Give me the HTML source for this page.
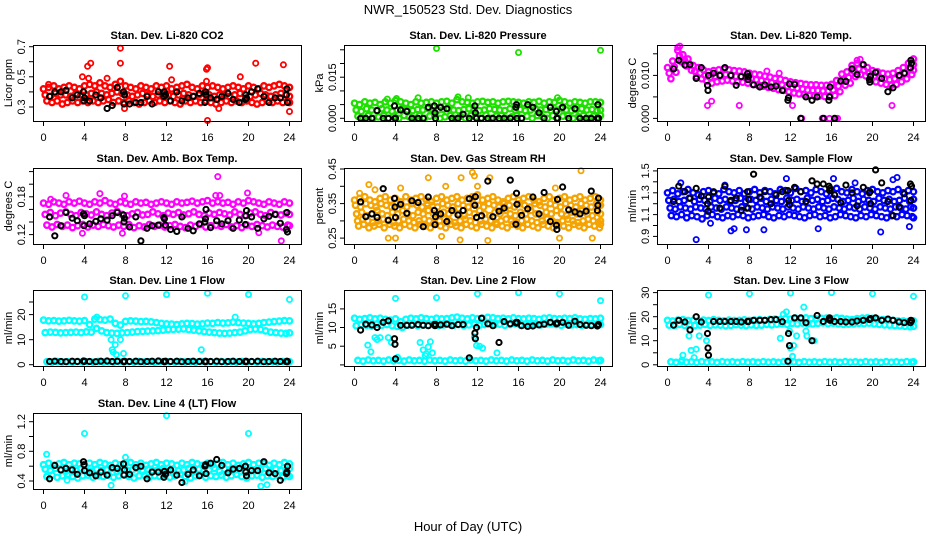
<!DOCTYPE html>
<html><head><meta charset="utf-8"><title>NWR_150523 Std. Dev. Diagnostics</title>
<style>
html,body{margin:0;padding:0;background:#fff;}
svg{display:block;font-family:"Liberation Sans",Arial,sans-serif;}
</style></head>
<body>
<svg id="chart" width="936" height="540" viewBox="0 0 936 540">
<text x="468" y="14" font-size="13" text-anchor="middle">NWR_150523  Std. Dev. Diagnostics</text>
<text x="468" y="531" font-size="13" text-anchor="middle">Hour of Day (UTC)</text>
</svg>
<script>
// shared hours of the black (hourly summary) points
const blackHours=[0.6,1.1,1.7,2.2,2.8,3.3,3.9,3.95,4.0,4.5,5.1,5.6,6.2,6.7,7.2,7.8,7.85,7.9,8.4,9.0,9.5,10.1,10.6,11.2,11.75,11.8,11.9,12.4,13.0,13.5,14.1,14.6,15.2,15.75,15.8,15.85,16.3,16.9,17.4,18.0,18.5,19.1,19.7,19.75,19.8,20.3,20.9,21.5,22.0,22.6,23.1,23.7,23.75,23.8];
const xTicks=[0,4,8,12,16,20,24];

// CO2
const co2Hi=[0.42,0.43,0.44,0.42,0.43,0.44,0.43,0.42,0.44,0.45,0.44,0.46,0.44,0.43,0.45,0.47,0.44,0.43,0.42,0.44,0.43,0.42,0.44,0.43,0.44,0.42,0.43,0.44,0.45,0.43,0.42,0.44,0.43,0.44,0.43,0.42,0.43,0.44,0.43,0.42,0.44,0.43,0.42,0.44,0.43,0.44,0.45,0.44,0.43];
const co2Mid=[0.38,0.37,0.39,0.38,0.38,0.37,0.39,0.38,0.38,0.39,0.40,0.39,0.38,0.39,0.40,0.39,0.38,0.37,0.38,0.39,0.38,0.37,0.38,0.39,0.38,0.37,0.38,0.39,0.38,0.37,0.38,0.39,0.38,0.37,0.38,0.38,0.37,0.38,0.39,0.38,0.37,0.38,0.39,0.38,0.37,0.38,0.39,0.38,0.37];
const co2Lo=[0.34,0.33,0.34,0.32,0.33,0.34,0.33,0.34,0.33,0.34,0.33,0.34,0.35,0.33,0.34,0.33,0.34,0.33,0.32,0.33,0.34,0.33,0.34,0.33,0.34,0.33,0.32,0.34,0.33,0.34,0.33,0.34,0.33,0.32,0.33,0.34,0.33,0.34,0.33,0.34,0.33,0.32,0.33,0.34,0.33,0.34,0.33,0.34,0.33];
const co2OutX=[4.3,4.6,3.8,7.5,7.5,12.3,12.5,15.9,16.0,16.0,15.9,19.2,20.7,23.4,24.0,17.1,6.2,7.9,4.4,0.5];
const co2OutY=[0.57,0.59,0.50,0.69,0.59,0.57,0.48,0.55,0.56,0.21,0.47,0.50,0.59,0.58,0.27,0.29,0.49,0.29,0.49,0.45];
const co2Black=[0.37,0.40,0.40,0.41,0.36,0.38,0.40,0.34,0.36,0.34,0.38,0.36,0.29,0.31,0.43,0.40,0.32,0.38,0.32,0.33,0.33,0.37,0.32,0.40,0.37,0.40,0.38,0.34,0.40,0.34,0.36,0.37,0.39,0.33,0.40,0.38,0.36,0.35,0.37,0.39,0.35,0.33,0.35,0.38,0.36,0.40,0.42,0.37,0.33,0.36,0.36,0.38,0.42,0.33];

// Pressure
const prsHi=[0.0055,0.005,0.006,0.0055,0.0058,0.005,0.006,0.0055,0.0065,0.006,0.0055,0.005,0.006,0.0055,0.0058,0.006,0.0055,0.006,0.0062,0.0055,0.0068,0.006,0.0058,0.0055,0.006,0.0062,0.0058,0.006,0.0055,0.006,0.0062,0.006,0.0058,0.0055,0.006,0.0058,0.0062,0.0055,0.006,0.0058,0.0065,0.006,0.0055,0.006,0.0058,0.0055,0.006,0.006,0.0058];
const prsMid=[0.003,0.0025,0.0035,0.003,0.0028,0.0035,0.003,0.0025,0.003,0.0035,0.003,0.0028,0.0032,0.003,0.0035,0.0025,0.003,0.0032,0.0035,0.003,0.0028,0.0032,0.0035,0.003,0.0028,0.003,0.0035,0.0032,0.003,0.0028,0.0035,0.003,0.0032,0.0028,0.003,0.0035,0.003,0.0032,0.0028,0.003,0.0035,0.003,0.0028,0.0032,0.0035,0.003,0.0032,0.0028,0.003];
const prsLo=[0.0008,0,0.001,0,0.0005,0.001,0,0.0008,0,0.001,0.0005,0,0.001,0,0.0008,0.0012,0,0.0005,0.001,0,0.0008,0,0.001,0.0005,0,0.0012,0,0.0008,0.001,0,0.0005,0.001,0,0.0008,0,0.001,0.0005,0,0.001,0,0.0008,0.001,0,0.0005,0.001,0,0.0008,0,0.001];
const prsOutX=[8,16,24,6.2,10.1,19.8,4.1,11.1,3.2];
const prsOutY=[0.0255,0.024,0.0248,0.0075,0.0078,0.0075,0.0072,0.0075,0.007];
const prsBlack=[0,0,0,0.0028,0,0,0.0045,0,0,0.003,0.0025,0,0,0,0.004,0.0045,0.002,0,0.004,0.0035,0,0,0.0015,0,0.0045,0.002,0,0,0,0,0,0,0,0.004,0.005,0,0,0.005,0.004,0.002,0,0.004,0.0025,0,0,0.004,0,0.0035,0,0,0,0,0.005,0];

// Li-820 temperature
const tmpHi=[0.0118,0.0133,0.0158,0.0148,0.0138,0.0123,0.0118,0.0113,0.0108,0.0111,0.0113,0.0115,0.0113,0.0111,0.011,0.0108,0.0105,0.0103,0.0101,0.0098,0.0096,0.0093,0.0091,0.0088,0.0085,0.0083,0.0081,0.0079,0.0078,0.0078,0.0077,0.0077,0.0079,0.0088,0.0103,0.0108,0.0123,0.0128,0.0125,0.0118,0.0111,0.0108,0.0105,0.0103,0.0105,0.0111,0.0118,0.0128,0.0138];
const tmpMid=[0.0105,0.012,0.0145,0.0135,0.0125,0.011,0.0105,0.010,0.0095,0.0098,0.010,0.0102,0.0100,0.0098,0.0097,0.0095,0.0092,0.009,0.0088,0.0085,0.0083,0.008,0.0078,0.0075,0.0072,0.007,0.0068,0.0066,0.0065,0.0065,0.0064,0.0064,0.0066,0.0075,0.009,0.0095,0.011,0.0115,0.0112,0.0105,0.0098,0.0095,0.0092,0.009,0.0092,0.0098,0.0105,0.0115,0.0125];
const tmpLo=[0.0092,0.0107,0.0132,0.0122,0.0112,0.0097,0.0092,0.0087,0.0082,0.0085,0.0087,0.0089,0.0087,0.0085,0.0084,0.0082,0.0079,0.0077,0.0075,0.0072,0.007,0.0067,0.0065,0.0062,0.0059,0.0057,0.0055,0.0053,0.0052,0.0052,0.0051,0.0051,0.0053,0.0062,0.0077,0.0082,0.0097,0.0102,0.0099,0.0092,0.0085,0.0082,0.0079,0.0077,0.0079,0.0085,0.0092,0.0102,0.0112];
const tmpOutX=[13.0,13.1,15.1,15.3,15.8,16.4,16.6,3.9,7.0,12.2,21.9,1.0,1.2,18.5,18.8,10.9,9.7,4.3];
const tmpOutY=[0,0,0,0,0,0,0,0.003,0.003,0.003,0.003,0.0165,0.0168,0.0135,0.0137,0.0105,0.011,0.004];
const tmpBlack=[0.0115,0.0135,0.0124,0.0125,0.0093,0.0118,0.0077,0.0065,0.010,0.0105,0.010,0.0118,0.010,0.0077,0.0097,0.0104,0.0090,0.0097,0.0078,0.0073,0.0078,0.0073,0.0075,0.0065,0.0042,0.0048,0.0080,0.0079,0,0.0050,0.0042,0.0050,0,0.0042,0.0050,0.0073,0,0.0087,0.0086,0.0115,0.0102,0.0125,0.0090,0.0084,0.0098,0.0107,0.0093,0.0062,0.0071,0.0100,0.0105,0.0118,0.0135,0.0128];

// Ambient box temperature
const ambHi=[0.170,0.168,0.172,0.170,0.168,0.172,0.170,0.173,0.170,0.168,0.172,0.170,0.174,0.170,0.168,0.172,0.170,0.168,0.172,0.170,0.171,0.168,0.170,0.172,0.170,0.168,0.172,0.170,0.171,0.173,0.170,0.172,0.174,0.170,0.172,0.170,0.171,0.168,0.172,0.170,0.174,0.172,0.170,0.168,0.172,0.170,0.168,0.172,0.170];
const ambMid=[0.152,0.155,0.150,0.154,0.156,0.152,0.150,0.155,0.153,0.151,0.156,0.152,0.150,0.154,0.157,0.152,0.150,0.153,0.155,0.151,0.152,0.156,0.153,0.150,0.154,0.152,0.155,0.151,0.153,0.156,0.152,0.150,0.154,0.152,0.155,0.153,0.151,0.156,0.152,0.150,0.154,0.156,0.152,0.150,0.155,0.152,0.151,0.154,0.152];
const ambLo=[0.135,0.132,0.136,0.133,0.135,0.131,0.134,0.136,0.132,0.135,0.133,0.136,0.134,0.132,0.135,0.133,0.136,0.131,0.134,0.132,0.136,0.133,0.135,0.132,0.134,0.136,0.133,0.131,0.135,0.133,0.136,0.132,0.134,0.135,0.133,0.136,0.132,0.134,0.131,0.135,0.133,0.136,0.134,0.132,0.135,0.133,0.132,0.135,0.134];
const ambOutX=[0.7,2.2,5.5,7.9,16.8,17.2,19.9,17.0,23.2,3.8,7.7,21.0];
const ambOutY=[0.176,0.182,0.185,0.181,0.182,0.182,0.186,0.212,0.110,0.122,0.122,0.123];
const ambBlack=[0.148,0.118,0.134,0.155,0.146,0.142,0.153,0.134,0.150,0.137,0.141,0.145,0.143,0.150,0.155,0.151,0.140,0.146,0.132,0.148,0.110,0.130,0.134,0.135,0.147,0.145,0.135,0.128,0.125,0.148,0.130,0.126,0.137,0.140,0.145,0.160,0.131,0.142,0.137,0.142,0.130,0.143,0.136,0.150,0.158,0.148,0.130,0.145,0.149,0.152,0.138,0.128,0.155,0.124];

// Gas stream RH
const rhHi=[0.36,0.365,0.37,0.36,0.355,0.365,0.37,0.36,0.365,0.355,0.37,0.36,0.365,0.37,0.36,0.355,0.365,0.37,0.36,0.365,0.37,0.36,0.365,0.37,0.375,0.36,0.365,0.37,0.36,0.355,0.365,0.37,0.36,0.365,0.37,0.36,0.355,0.365,0.37,0.36,0.365,0.37,0.36,0.365,0.37,0.36,0.365,0.37,0.36];
const rhUp=[0.345,0.34,0.35,0.345,0.34,0.35,0.345,0.34,0.35,0.345,0.34,0.35,0.345,0.34,0.35,0.345,0.34,0.35,0.345,0.34,0.35,0.345,0.34,0.35,0.345,0.34,0.35,0.345,0.34,0.35,0.345,0.34,0.35,0.345,0.34,0.35,0.345,0.34,0.35,0.345,0.34,0.35,0.345,0.34,0.35,0.345,0.34,0.35,0.345];
const rhMid=[0.32,0.325,0.315,0.32,0.33,0.32,0.315,0.325,0.32,0.33,0.32,0.315,0.325,0.32,0.33,0.32,0.315,0.325,0.32,0.33,0.32,0.315,0.325,0.32,0.33,0.32,0.315,0.325,0.32,0.33,0.32,0.315,0.325,0.32,0.33,0.32,0.315,0.325,0.32,0.33,0.32,0.315,0.325,0.32,0.33,0.32,0.315,0.325,0.32];
const rhDown=[0.30,0.305,0.30,0.295,0.30,0.305,0.30,0.295,0.30,0.305,0.30,0.295,0.30,0.305,0.30,0.295,0.30,0.305,0.30,0.295,0.30,0.305,0.30,0.295,0.30,0.305,0.30,0.295,0.30,0.305,0.30,0.295,0.30,0.305,0.30,0.295,0.30,0.305,0.30,0.295,0.30,0.305,0.30,0.295,0.30,0.305,0.30,0.295,0.30];
const rhLo=[0.285,0.29,0.28,0.285,0.29,0.28,0.29,0.285,0.28,0.29,0.285,0.28,0.29,0.285,0.28,0.29,0.285,0.28,0.29,0.285,0.28,0.29,0.285,0.28,0.29,0.285,0.28,0.29,0.285,0.28,0.29,0.285,0.28,0.29,0.285,0.28,0.29,0.285,0.28,0.29,0.285,0.28,0.29,0.285,0.28,0.29,0.285,0.28,0.29];
const rhOutX=[3.3,4.0,8.5,10.3,13.0,20.0,23.2,7.2,10.4,11.5,11.7,13.2,22.1,1.4,8.9,12.0,4.5,19.6,0.5,2.0];
const rhOutY=[0.25,0.25,0.255,0.245,0.243,0.25,0.25,0.425,0.425,0.44,0.43,0.425,0.445,0.405,0.40,0.40,0.395,0.395,0.38,0.39];
const rhBlack=[0.355,0.312,0.320,0.310,0.393,0.302,0.365,0.340,0.310,0.348,0.322,0.358,0.353,0.283,0.369,0.330,0.289,0.312,0.320,0.298,0.330,0.317,0.330,0.364,0.345,0.370,0.310,0.315,0.415,0.312,0.328,0.337,0.418,0.290,0.380,0.348,0.316,0.335,0.369,0.320,0.382,0.298,0.287,0.275,0.362,0.398,0.332,0.326,0.320,0.328,0.386,0.330,0.345,0.366];

// Sample flow
const sfHi=[1.30,1.32,1.29,1.31,1.33,1.30,1.28,1.31,1.32,1.30,1.29,1.33,1.31,1.30,1.32,1.29,1.31,1.33,1.30,1.32,1.31,1.29,1.33,1.32,1.30,1.34,1.31,1.32,1.30,1.33,1.31,1.29,1.32,1.34,1.31,1.30,1.33,1.31,1.29,1.32,1.33,1.31,1.30,1.32,1.31,1.33,1.30,1.32,1.31];
const sfUp=[1.23,1.24,1.22,1.23,1.25,1.22,1.24,1.23,1.22,1.25,1.23,1.24,1.22,1.23,1.25,1.22,1.24,1.23,1.25,1.22,1.24,1.23,1.22,1.25,1.23,1.24,1.22,1.25,1.23,1.24,1.22,1.23,1.25,1.24,1.22,1.23,1.25,1.22,1.24,1.23,1.22,1.25,1.23,1.24,1.22,1.23,1.25,1.22,1.24];
const sfMid=[1.16,1.15,1.17,1.16,1.15,1.17,1.16,1.15,1.17,1.16,1.15,1.17,1.16,1.15,1.17,1.16,1.15,1.17,1.16,1.15,1.17,1.16,1.15,1.17,1.16,1.15,1.17,1.16,1.15,1.17,1.16,1.15,1.17,1.16,1.15,1.17,1.16,1.15,1.17,1.16,1.15,1.17,1.16,1.15,1.17,1.16,1.15,1.17,1.16];
const sfLo=[1.09,1.08,1.10,1.07,1.09,1.08,1.06,1.09,1.10,1.08,1.07,1.09,1.08,1.10,1.09,1.07,1.08,1.09,1.10,1.08,1.07,1.09,1.08,1.10,1.09,1.08,1.07,1.09,1.10,1.08,1.09,1.07,1.08,1.10,1.09,1.08,1.07,1.09,1.08,1.10,1.09,1.08,1.07,1.09,1.08,1.10,1.09,1.08,1.07];
const sfOutX=[2.8,6.2,6.5,7.7,9.4,14.7,20.8,23.6,4.2,16.2,11.6,22.4,22.0,1.3,5.6,18.3];
const sfOutY=[0.87,0.95,0.97,0.96,0.96,0.97,0.94,0.99,1.02,1.43,1.43,1.44,1.42,1.39,1.37,1.39];
const sfBlack=[1.22,1.36,1.31,1.25,1.34,1.27,1.20,1.13,1.26,1.31,1.16,1.36,1.23,1.25,1.14,1.31,1.16,1.24,1.47,1.26,1.31,1.20,1.28,1.31,1.32,1.23,1.19,1.35,1.31,1.22,1.41,1.38,1.38,1.36,1.32,1.34,1.28,1.21,1.37,1.30,1.18,1.35,1.30,1.31,1.20,1.51,1.39,1.22,1.09,1.17,1.29,1.38,1.23,1.36];

// Line flows
const lineBase=[1.2,1.0,1.3,1.1,1.2,1.0,1.3,1.1,1.2,1.0,1.3,1.1,1.2,1.0,1.3,1.1,1.2,1.0,1.3,1.1,1.2,1.0,1.3,1.1,1.2,1.0,1.3,1.1,1.2,1.0,1.3,1.1,1.2,1.0,1.3,1.1,1.2,1.0,1.3,1.1,1.2,1.0,1.3,1.1,1.2,1.0,1.3,1.1,1.2];
const l1Hi=[17.8,17.5,17.6,17.4,17.5,17.7,17.5,17.4,17.6,16.0,18.2,18.0,17.8,18.2,16.5,15.8,17.3,17.5,17.4,17.2,17.3,17.1,16.8,16.5,16.3,16.2,16.0,16.3,16.5,16.4,16.2,16.3,16.6,16.5,16.8,16.6,16.7,17.0,16.8,16.6,16.5,16.3,16.5,16.8,17.0,17.2,17.4,17.6,17.5];
const l1Mid=[12.8,13.0,12.9,12.7,12.8,12.9,13.0,12.8,13.1,13.0,14.5,13.5,12.8,12.6,12.5,12.7,12.8,13.0,13.2,13.3,13.4,13.5,13.6,13.8,14.0,14.1,14.2,14.3,14.0,13.8,13.5,13.2,13.0,12.8,12.6,12.5,12.6,12.8,13.0,13.5,14.0,14.2,14.0,13.5,13.0,12.8,12.6,12.5,12.7];
const l1OutX=[4,8,12,16,20,24,6.6,6.7,6.8,7.0,7.1,7.5,7.8,15.4,18.7,5.2,4.2];
const l1OutY=[27,27.5,28,28.5,28,26,10,6,5,8,4,10,4.5,6,19,19,13];
const l1Black=[1.3,1.4,1.3,1.2,1.4,1.3,1.5,1.3,1.4,1.3,1.2,1.4,1.5,1.3,1.4,1.3,1.2,1.4,1.3,1.4,1.2,1.3,1.4,1.5,1.3,1.2,1.4,1.3,1.4,1.2,1.3,1.4,1.3,1.2,1.4,1.3,1.3,1.4,1.2,1.3,1.4,1.3,1.2,1.4,1.3,1.3,1.4,1.2,1.3,1.4,1.3,1.2,1.4,1.3];
const l2Hi=[12.5,12.2,12.4,12.6,12.3,12.5,12.2,12.0,12.3,11.5,12.2,12.5,12.3,12.6,12.4,12.2,12.5,12.3,12.4,12.6,12.8,12.5,12.3,12.6,12.4,12.5,12.7,12.6,12.4,12.5,12.3,12.6,12.4,12.3,12.5,12.4,12.2,12.5,12.6,12.4,12.3,12.5,12.4,12.6,12.3,12.2,12.4,12.3,12.5];
const l2Mid=[10.5,10.8,10.6,10.4,10.9,10.6,10.8,10.5,10.3,10.0,10.6,10.8,10.5,10.7,10.6,10.8,10.5,10.7,10.9,10.6,10.8,10.5,10.7,10.9,10.6,10.8,11.0,10.7,10.9,10.6,10.8,11.0,10.7,10.9,10.6,10.8,10.7,10.9,11.0,10.8,10.6,10.9,10.7,10.8,10.6,10.9,10.7,10.5,10.8];
const l2OutX=[4,8,12,16,20,24,1.3,1.6,2.0,2.2,2.5,3.3,3.6,3.8,6.4,6.7,6.9,7.0,7.2,7.4,7.6,11.7,11.9,12.2,12.5,13.9,4.2];
const l2OutY=[17.8,18,19,19.3,19,17.2,5.3,3.5,7.3,6.8,7.3,7.3,6,1,6,4,2.5,3,4.8,6.2,3.2,7.5,5.2,5,4.5,3.2,2];
const l2Black=[9.3,10.9,10.7,10.0,11.4,11.8,7.0,5.5,1.6,10.6,10.6,10.6,10.8,10.6,10.5,10.8,10.5,10.8,10.7,10.9,10.5,10.8,10.8,1.9,8.5,7.0,10.0,12.5,11.0,10.5,6.0,11.6,11.0,11.3,11.2,11.4,10.5,10.3,10.4,10.7,10.9,11.4,11.0,11.2,11.2,11.4,10.6,11.7,10.8,10.6,10.5,10.4,10.6,10.8];
const l3Hi=[18.5,18.2,18.6,18.8,18.4,18.5,18.2,18.6,18.4,18.8,18.5,18.3,18.6,18.4,18.5,18.7,18.4,18.6,18.8,18.5,18.9,19.0,18.8,19.2,19.0,19.4,19.3,19.5,19.2,19.0,19.3,19.4,19.2,19.5,19.3,19.0,18.8,19.2,19.4,19.5,19.3,19.0,18.8,18.6,18.5,18.3,18.2,18.0,18.3];
const l3Mid=[16.5,16.2,16.8,16.4,16.6,16.3,16.5,16.8,16.4,16.6,16.5,16.2,16.4,16.7,16.5,16.3,16.6,16.4,16.5,16.8,16.6,16.9,17.0,16.8,17.2,17.0,17.3,17.1,17.0,17.2,17.4,17.1,17.3,17.0,16.8,16.9,17.0,17.2,17.1,17.3,17.0,16.8,16.6,16.5,16.3,16.2,16.0,15.8,16.0];
const l3OutX=[4,8,12,16,20,24,1.4,1.5,2.1,2.3,2.6,2.8,3.1,3.8,11.0,11.3,11.6,11.9,12.0,12.3,12.6,13.3,13.5,13.6,14.3,12.2];
const l3OutY=[29,29.5,29.8,30,29.5,28.5,2,4,12,6,3,6.5,12,10,11,21,22,14,7,8,12,24,14,12,10,3.5];
const l3Black=[16.5,18.5,17.8,14.5,20,17.8,13,7,4,18,18,18,18,18,17.8,18,18,18,18.5,18.5,18.5,18.8,18.8,17.9,1.5,13,8,19.5,19.5,17.5,10,20.5,18,19,19.5,18.5,18,18,17.8,17.8,18.2,18.5,18.8,19,19.2,19.5,18.5,19,18.5,17.8,17.5,17.5,18.5,18.3];
const l4Hi=[0.62,0.64,0.61,0.63,0.65,0.62,0.64,0.63,0.61,0.64,0.62,0.65,0.63,0.61,0.64,0.62,0.63,0.65,0.62,0.64,0.61,0.63,0.65,0.62,0.64,0.63,0.61,0.64,0.62,0.65,0.63,0.61,0.64,0.62,0.63,0.65,0.62,0.64,0.61,0.63,0.65,0.62,0.64,0.63,0.61,0.64,0.62,0.65,0.63];
const l4Mid=[0.56,0.54,0.57,0.55,0.53,0.56,0.54,0.57,0.55,0.53,0.56,0.54,0.55,0.57,0.53,0.56,0.54,0.55,0.57,0.53,0.56,0.54,0.55,0.57,0.53,0.56,0.54,0.55,0.57,0.53,0.56,0.54,0.55,0.57,0.53,0.56,0.54,0.55,0.57,0.53,0.56,0.54,0.55,0.57,0.53,0.56,0.54,0.55,0.57];
const l4Lo=[0.46,0.48,0.45,0.47,0.49,0.46,0.44,0.47,0.48,0.45,0.47,0.46,0.48,0.45,0.47,0.49,0.46,0.44,0.47,0.48,0.45,0.47,0.46,0.48,0.45,0.47,0.49,0.46,0.44,0.47,0.48,0.45,0.47,0.46,0.48,0.45,0.47,0.49,0.46,0.44,0.47,0.48,0.45,0.47,0.46,0.48,0.45,0.47,0.46];
const l4OutX=[4,12,20,0.3,8,6.6,21.2,21.8,2.3,13.8];
const l4OutY=[1.04,1.28,1.04,0.76,0.72,0.34,0.33,0.35,0.41,0.39];
const l4Black=[0.43,0.61,0.55,0.57,0.55,0.49,0.66,0.62,0.54,0.51,0.47,0.52,0.48,0.58,0.57,0.63,0.48,0.55,0.49,0.58,0.60,0.43,0.52,0.52,0.45,0.53,0.49,0.55,0.48,0.38,0.49,0.55,0.47,0.60,0.62,0.50,0.64,0.69,0.61,0.51,0.56,0.57,0.60,0.52,0.47,0.54,0.54,0.66,0.51,0.50,0.41,0.50,0.52,0.60];

// panel configuration (layout + references)
const panels=[
 {name:'co2',title:'Stan. Dev. Li-820 CO2',ylab:'Licor ppm',col:0,row:0,ymin:0.207,ymax:0.711,ticks:[0.3,0.4,0.5,0.6,0.7],labs:{'0.3':'0.3','0.5':'0.5','0.7':'0.7'},color:'#ff0000',bands:[co2Hi,co2Mid,co2Lo],ox:co2OutX,oy:co2OutY,black:co2Black},
 {name:'pressure',title:'Stan. Dev. Li-820 Pressure',ylab:'kPa',col:1,row:0,ymin:-0.001,ymax:0.02675,ticks:[0,0.005,0.01,0.015,0.02,0.025],labs:{'0':'0.000','0.015':'0.015'},color:'#1ee000',bands:[prsHi,prsMid,prsLo],ox:prsOutX,oy:prsOutY,black:prsBlack},
 {name:'li820-temp',title:'Stan. Dev. Li-820 Temp.',ylab:'degrees C',col:2,row:0,ymin:-0.0006,ymax:0.01705,ticks:[0,0.005,0.01,0.015],labs:{'0':'0.000','0.01':'0.010'},color:'#ff00ff',bands:[tmpHi,tmpMid,tmpLo],ox:tmpOutX,oy:tmpOutY,black:tmpBlack},
 {name:'amb-box-temp',title:'Stan. Dev. Amb. Box Temp.',ylab:'degrees C',col:0,row:1,ymin:0.105,ymax:0.2257,ticks:[0.12,0.14,0.16,0.18,0.2,0.22],labs:{'0.12':'0.12','0.18':'0.18'},color:'#ff00ff',bands:[ambHi,ambMid,ambLo],ox:ambOutX,oy:ambOutY,black:ambBlack},
 {name:'gas-stream-rh',title:'Stan. Dev. Gas Stream RH',ylab:'percent',col:1,row:1,ymin:0.233,ymax:0.453,ticks:[0.25,0.3,0.35,0.4,0.45],labs:{'0.25':'0.25','0.35':'0.35','0.45':'0.45'},color:'#f5a300',bands:[rhHi,rhUp,rhMid,rhDown,rhLo],ox:rhOutX,oy:rhOutY,black:rhBlack},
 {name:'sample-flow',title:'Stan. Dev. Sample Flow',ylab:'ml/min',col:2,row:1,ymin:0.83,ymax:1.527,ticks:[0.9,1.0,1.1,1.2,1.3,1.4,1.5],labs:{'0.9':'0.9','1.1':'1.1','1.3':'1.3','1.5':'1.5'},color:'#0000ff',bands:[sfHi,sfUp,sfMid,sfLo],ox:sfOutX,oy:sfOutY,black:sfBlack},
 {name:'line1-flow',title:'Stan. Dev. Line 1 Flow',ylab:'ml/min',col:0,row:2,ymin:-0.5,ymax:29.8,ticks:[0,10,20,25],labs:{'0':'0','10':'10','20':'20'},color:'#00ffff',bands:[l1Hi,l1Mid,lineBase],ox:l1OutX,oy:l1OutY,black:l1Black},
 {name:'line2-flow',title:'Stan. Dev. Line 2 Flow',ylab:'ml/min',col:1,row:2,ymin:-0.3,ymax:20.05,ticks:[0,5,10,15],labs:{'5':'5','10':'10','15':'15'},color:'#00ffff',bands:[l2Hi,l2Mid,lineBase],ox:l2OutX,oy:l2OutY,black:l2Black},
 {name:'line3-flow',title:'Stan. Dev. Line 3 Flow',ylab:'ml/min',col:2,row:2,ymin:-0.5,ymax:31.1,ticks:[0,5,10,15,20,25,30],labs:{'0':'0','10':'10','20':'20','30':'30'},color:'#00ffff',bands:[l3Hi,l3Mid,lineBase],ox:l3OutX,oy:l3OutY,black:l3Black},
 {name:'line4-flow',title:'Stan. Dev. Line 4 (LT) Flow',ylab:'ml/min',col:0,row:3,ymin:0.292,ymax:1.317,ticks:[0.4,0.6,0.8,1.0,1.2],labs:{'0.4':'0.4','0.8':'0.8','1.2':'1.2'},color:'#00ffff',bands:[l4Hi,l4Mid,l4Lo],ox:l4OutX,oy:l4OutY,black:l4Black}
];

const NS='http://www.w3.org/2000/svg';
const svg=document.getElementById('chart');
const colLeft=[33,344,657], rowTop=[45,168,290,413], BW=268, BH=76;
function mk(tag,attrs,parent){const e=document.createElementNS(NS,tag);for(const k in attrs)e.setAttribute(k,attrs[k]);(parent||svg).appendChild(e);return e;}

panels.forEach(p=>{
  const L=colLeft[p.col], T=rowTop[p.row], B=T+BH;
  const g=mk('g',{});
  
  
  const xs=h=>L+10.5+h*(246/24);
  const ys=v=>B-(v-p.ymin)/(p.ymax-p.ymin)*BH;
  const nb=p.bands.length;
  p.bands.forEach((arr,bi)=>{
    arr.forEach((v,i)=>{
      const h=Math.min(24,i*0.5+bi*(0.5/nb));
      const c=mk('circle',{cx:xs(h).toFixed(1),cy:ys(v).toFixed(1),r:2.7,fill:'none',stroke:p.color,'stroke-width':2.3},g);
      
      
    });
  });
  p.ox.forEach((h,i)=>{
    const c=mk('circle',{cx:xs(h).toFixed(1),cy:ys(p.oy[i]).toFixed(1),r:2.6,fill:'none',stroke:p.color,'stroke-width':1.8},g);
    
    
  });
  p.black.forEach((v,i)=>{
    const c=mk('circle',{cx:xs(blackHours[i]).toFixed(1),cy:ys(v).toFixed(1),r:2.6,fill:'none',stroke:'#000','stroke-width':2},g);
    
    
  });
  const fr=mk('rect',{x:L+0.5,y:T+0.5,width:BW,height:BH,fill:'none',stroke:'#000','stroke-width':1},g);
  
  
  const t=mk('text',{x:L+BW/2,y:T-6,'font-size':11,'font-weight':'bold','text-anchor':'middle'},g);
  t.textContent=p.title;
  
  
  const xa=mk('g',{},g);
  
  
  mk('line',{x1:xs(0),x2:xs(24),y1:B+0.5,y2:B+0.5,stroke:'#000'},xa);
  xTicks.forEach(h=>{
    mk('line',{x1:xs(h).toFixed(1),x2:xs(h).toFixed(1),y1:B+0.5,y2:B+5,stroke:'#000'},xa);
    const tl=mk('text',{x:xs(h).toFixed(1),y:B+20,'font-size':11,'text-anchor':'middle'},xa);
    tl.textContent=String(h);
    
    
  });
  const ya=mk('g',{},g);
  
  
  const t0=ys(p.ticks[0]), t1=ys(p.ticks[p.ticks.length-1]);
  mk('line',{x1:L+0.5,x2:L+0.5,y1:t0,y2:t1,stroke:'#000'},ya);
  p.ticks.forEach(v=>{
    const y=ys(v).toFixed(1);
    mk('line',{x1:L-4,x2:L+0.5,y1:y,y2:y,stroke:'#000'},ya);
    const key=String(v);
    if(p.labs[key]!==undefined){
      const tl=mk('text',{x:0,y:0,'font-size':11,'text-anchor':'middle',transform:`translate(${L-8},${y}) rotate(-90)`},ya);
      tl.textContent=p.labs[key];
      
      
    }
  });
  const yt=mk('text',{x:0,y:0,'font-size':11,'text-anchor':'middle',transform:`translate(${L-21},${T+BH/2}) rotate(-90)`},g);
  yt.textContent=p.ylab;
  
  
});
</script>
</body></html>
